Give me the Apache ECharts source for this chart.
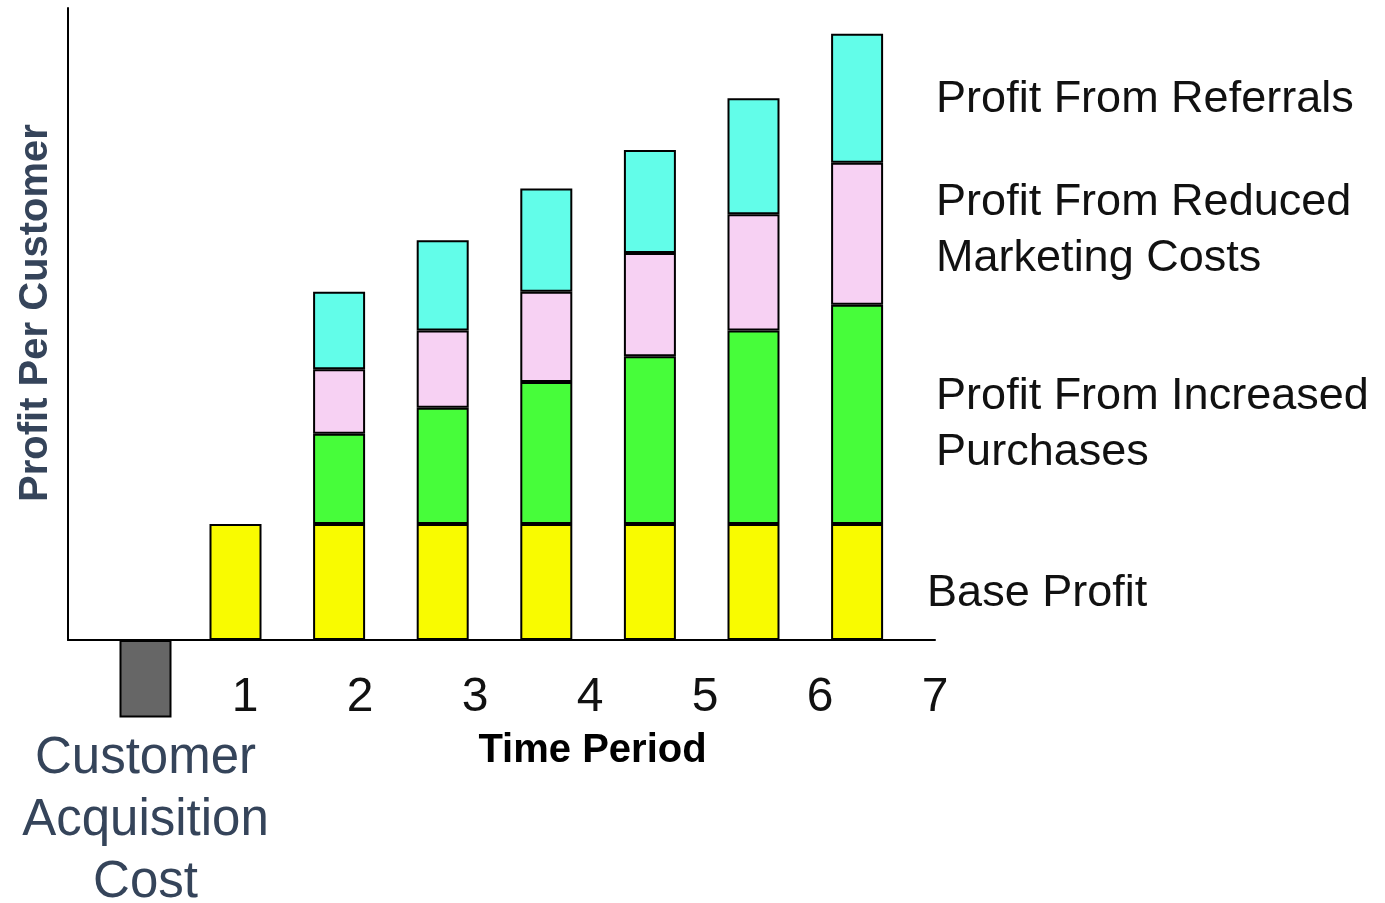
<!DOCTYPE html>
<html>
<head>
<meta charset="utf-8">
<script src="https://cdn.jsdelivr.net/npm/echarts@6/dist/echarts.min.js"></script>
<style>
  html, body {margin: 0; padding: 0; background: #fff;}
  #chart {width: 1385px; height: 903px;}
</style>
</head>
<body>
<div id="chart"></div>
<script>
// periods with profit bars (bars sit on their own band scale)
const periods = ['1', '2', '3', '4', '5', '6', '7'];
// numbers printed along the time axis
const tickValues = [1, 2, 3, 4, 5, 6, 7];

const baseProfit = [9, 9, 9, 9, 9, 9, 9];
const increasedPurchases = ['-', 7, 9, 11, 13, 15, 17];
const reducedMarketing = ['-', 5, 6, 7, 8, 9, 11];
const referrals = ['-', 6, 7, 8, 8, 9, 10];
const acquisitionCost = [-6];

const segmentNames = [
    'Base Profit',
    'Profit From Increased\nPurchases',
    'Profit From Reduced\nMarketing Costs',
    'Profit From Referrals'
];

const chart = echarts.init(document.getElementById('chart'));

const font = 'Liberation Sans, Arial, sans-serif';

// only the last bar carries the segment label
function withEndLabel(values) {
    return values.map(function (v, i) {
        if (i === values.length - 1) {
            return {value: v, label: {show: true}};
        }
        return v;
    });
}

function segment(name, values, color, dx, dy) {
    return {
        type: 'bar',
        name: name,
        xAxisIndex: 1,
        yAxisIndex: 1,
        stack: 'profit',
        barWidth: 52,
        data: withEndLabel(values),
        itemStyle: {color: color, borderColor: '#000', borderWidth: 2},
        label: {
            show: false,
            position: 'right',
            distance: 53 + dx,
            offset: [0, dy],
            formatter: '{a}',
            fontFamily: font,
            fontSize: 45,
            lineHeight: 56,
            color: '#111',
            align: 'left'
        },
        emphasis: {disabled: true}
    };
}

const option = {
    animation: false,
    grid: [
        {left: 68, right: 450, top: 8, bottom: 263},
        {left: 183.7, right: 476.1, top: 8, bottom: 134},
        {left: 93.8, right: 1187.8, top: 8, bottom: 134}
    ],
    xAxis: [
        {
            gridIndex: 0,
            type: 'value',
            min: -0.54,
            max: 7,
            axisLine: {show: true, onZero: false, lineStyle: {color: '#000', width: 2}},
            axisTick: {show: false},
            splitLine: {show: false},
            axisLabel: {
                customValues: tickValues,
                fontFamily: font,
                fontSize: 48,
                color: '#111',
                margin: 34
            },
            name: 'Time Period',
            nameLocation: 'middle',
            nameGap: 91,
            nameTextStyle: {
                fontFamily: font,
                fontSize: 40,
                fontWeight: 'bold',
                color: '#000',
                padding: [0, 0, 0, 182]
            }
        },
        {gridIndex: 1, type: 'category', data: periods, show: false},
        {gridIndex: 2, type: 'category', data: ['0'], show: false}
    ],
    yAxis: [
        {
            gridIndex: 0,
            type: 'value',
            min: 0,
            max: 49,
            axisLine: {show: true, onZero: false, lineStyle: {color: '#000', width: 2}},
            axisTick: {show: false},
            axisLabel: {show: false},
            splitLine: {show: false},
            name: 'Profit Per Customer',
            nameLocation: 'middle',
            nameRotate: 90,
            nameGap: 12,
            nameTextStyle: {
                fontFamily: font,
                fontSize: 40,
                fontWeight: 'bold',
                color: '#35445a',
                padding: [0, 0, 0, 22]
            }
        },
        {gridIndex: 1, type: 'value', min: -10, max: 49, show: false},
        {gridIndex: 2, type: 'value', min: -10, max: 49, show: false}
    ],
    series: [
        segment(segmentNames[0], baseProfit, '#f9fb00', -9, 12),
        segment(segmentNames[1], increasedPurchases, '#47fd3a', 0, 10),
        segment(segmentNames[2], reducedMarketing, '#f7d1f3', 0, -3),
        segment(segmentNames[3], referrals, '#62fde9', 0, 1),
        {
            type: 'bar',
            name: 'Customer\nAcquisition\nCost',
            xAxisIndex: 2,
            yAxisIndex: 2,
            barWidth: 52,
            data: acquisitionCost,
            itemStyle: {color: '#666666', borderColor: '#000', borderWidth: 2},
            label: {
                show: true,
                position: 'bottom',
                distance: 11,
                formatter: '{a}',
                fontFamily: font,
                fontSize: 51,
                lineHeight: 62,
                color: '#35445a'
            },
            emphasis: {disabled: true}
        }
    ]
};

chart.setOption(option);
</script>
</body>
</html>
